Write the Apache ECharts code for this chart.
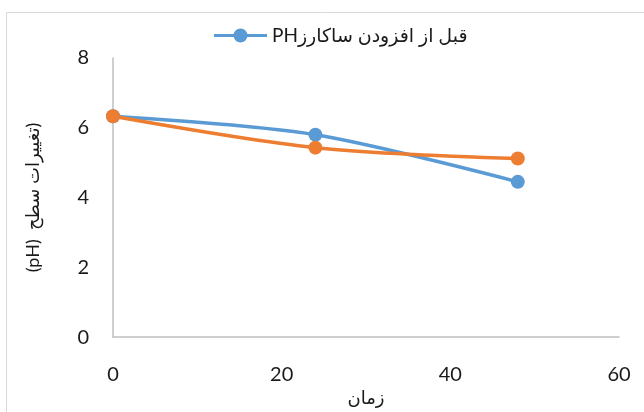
<!DOCTYPE html>
<html>
<head>
<meta charset="utf-8">
<script src="https://cdn.jsdelivr.net/npm/echarts@6/dist/echarts.min.js"></script>
<style>
  html, body { margin: 0; padding: 0; background: #fff; }
  #chart { width: 644px; height: 412px; }
</style>
</head>
<body>
<div id="chart"></div>
<script>
// زمان (x) و مقادیر pH
const timePoints = [0, 24, 48];
const phBefore = [6.33, 5.8, 4.45];   // قبل از افزودن ساکارز
const phAfter = [6.33, 5.43, 5.12];   // سری دوم (بدون راهنما)
const xTicks = [0, 20, 40, 60];
const yTicks = [0, 2, 4, 6, 8];

const legendName = 'PHقبل از افزودن ساکارز';
const fontFamily = 'Lato, "DejaVu Sans", sans-serif';

// آیکون راهنما: خط ضخیم با دایره در وسط
const legendIcon = 'path://M0,5.5H53V8.5H0Z M19.5,7a7,7 0 1,1 14,0a7,7 0 1,1 -14,0Z';

const chart = echarts.init(document.getElementById('chart'));

const toPairs = ys => timePoints.map((t, i) => [t, ys[i]]);

const option = {
  animation: false,
  textStyle: { fontFamily: fontFamily },
  graphic: [{
    type: 'rect',
    shape: { x: 6.5, y: 12.5, width: 700, height: 500 },
    style: { fill: 'none', stroke: '#d9d9d9', lineWidth: 1 },
    silent: true
  }],
  legend: {
    data: [{ name: legendName, icon: legendIcon }],
    left: 209,
    top: 21,
    itemWidth: 53,
    itemHeight: 14,
    itemGap: 6,
    textStyle: { fontSize: 19, color: '#1a1a1a', fontFamily: fontFamily }
  },
  grid: { left: 113, right: 25, top: 58, bottom: 68 },
  xAxis: {
    type: 'value',
    min: xTicks[0],
    max: xTicks[xTicks.length - 1],
    interval: 20,
    name: 'زمان',
    nameLocation: 'middle',
    nameGap: 38,
    nameTextStyle: { fontSize: 18, color: '#1a1a1a' },
    axisLine: { show: true, lineStyle: { color: '#bfbfbf', width: 1.5 } },
    axisTick: { show: false },
    splitLine: { show: false },
    axisLabel: { margin: 27, fontSize: 20, color: '#1a1a1a' }
  },
  yAxis: {
    type: 'value',
    min: yTicks[0],
    max: yTicks[yTicks.length - 1],
    interval: 2,
    name: '(pH)  تغییرات سطح)',
    nameLocation: 'middle',
    nameRotate: 90,
    nameGap: 71,
    nameTextStyle: { fontSize: 18, color: '#1a1a1a' },
    axisLine: { show: true, lineStyle: { color: '#bfbfbf', width: 1.5 } },
    axisTick: { show: false },
    splitLine: { show: false },
    axisLabel: { margin: 24, fontSize: 20, color: '#1a1a1a' }
  },
  series: [
    {
      name: legendName,
      type: 'line',
      smooth: 0.3,
      data: toPairs(phBefore),
      symbol: 'circle',
      symbolSize: 14,
      lineStyle: { color: '#5b9bd5', width: 3.5 },
      itemStyle: { color: '#5b9bd5' }
    },
    {
      name: 'بعد',
      type: 'line',
      smooth: 0.3,
      data: toPairs(phAfter),
      symbol: 'circle',
      symbolSize: 14,
      lineStyle: { color: '#ed7d31', width: 3.5 },
      itemStyle: { color: '#ed7d31' }
    }
  ]
};

chart.setOption(option);
</script>
</body>
</html>
